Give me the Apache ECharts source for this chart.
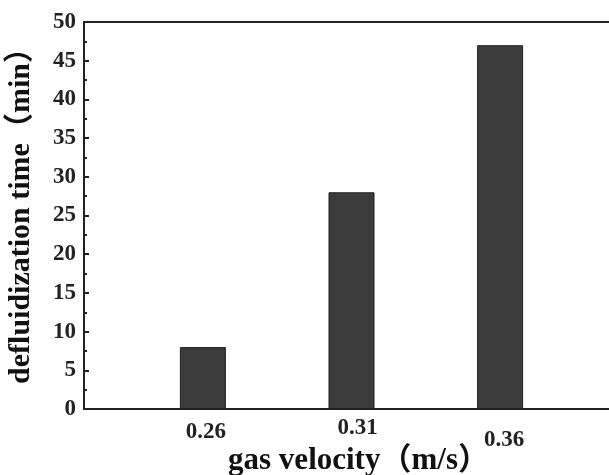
<!DOCTYPE html>
<html><head><meta charset="utf-8">
<script src="https://cdn.jsdelivr.net/npm/echarts@6/dist/echarts.min.js"></script>
<style>html,body{margin:0;padding:0;background:#fff}#c{width:609px;height:475px}</style>
</head><body><div id="c"></div>
<script>
const categories = ['0.26', '0.31', '0.36'];
const values = [8, 28, 47];
const yTicks = [0, 5, 10, 15, 20, 25, 30, 35, 40, 45, 50];

const xs = categories.map(Number);
const serif = '"Liberation Serif","Times New Roman","Noto Sans CJK SC",serif';
const chart = echarts.init(document.getElementById('c'), null, {renderer: 'canvas'});
chart.setOption({
  animation: false,
  backgroundColor: '#fff',
  grid: {left: 84, right: -10, top: 22, bottom: 66, containLabel: false, outerBoundsMode: 'none'},
  xAxis: [{
    type: 'value', min: 0.22, max: 0.40, interval: 0.01,
    splitLine: {show: false},
    axisLine: {show: true, lineStyle: {color: '#222', width: 2}},
    axisTick: {show: false},
    axisLabel: {
      customValues: xs, margin: 12,
      formatter: function (v) {
        const i = xs.findIndex(x => Math.abs(x - v) < 1e-6);
        return '{l' + i + '|' + categories[i] + '}';
      },
      rich: {
        l0: {fontFamily: serif, fontWeight: 'bold', fontSize: 23, color: '#222', padding: [0, 0, 0, 6]},
        l1: {fontFamily: serif, fontWeight: 'bold', fontSize: 23, color: '#222', padding: [-4, 0, 0, 12]},
        l2: {fontFamily: serif, fontWeight: 'bold', fontSize: 23, color: '#222', padding: [8, 0, 0, 8]}
      }
    },
    name: 'gas velocity（m/s）', nameLocation: 'middle', nameGap: 36, nameMoveOverlap: false,
    nameTextStyle: {fontFamily: serif, fontWeight: 'bold', fontSize: 31, color: '#111', padding: [0, 0, 0, 14]}
  }, {
    type: 'value', position: 'top', min: 0.22, max: 0.40,
    splitLine: {show: false},
    axisLine: {show: true, lineStyle: {color: '#222', width: 2}},
    axisTick: {show: false}, axisLabel: {show: false}
  }],
  yAxis: {
    type: 'value', min: yTicks[0], max: yTicks[yTicks.length - 1], interval: yTicks[1] - yTicks[0],
    splitLine: {show: false},
    axisLine: {show: true, lineStyle: {color: '#222', width: 2}},
    axisTick: {show: true, inside: true, length: 5, lineStyle: {color: '#222', width: 2}},
    minorTick: {show: true, splitNumber: 2, length: 3, lineStyle: {color: '#222', width: 2}},
    axisLabel: {fontFamily: serif, fontWeight: 'bold', fontSize: 23, color: '#222', margin: 8},
    name: 'defluidization time（min）', nameLocation: 'middle', nameGap: 48, nameRotate: 90, nameMoveOverlap: false,
    nameTextStyle: {fontFamily: serif, fontWeight: 'bold', fontSize: 30, color: '#111', padding: [0, 0, 0, 14]}
  },
  series: [{
    type: 'bar', barWidth: 46,
    data: xs.map((x, i) => [x, values[i]]),
    itemStyle: {color: '#3b3b3b', borderColor: '#1e1e1e', borderWidth: 1}
  }]
});
</script></body></html>
